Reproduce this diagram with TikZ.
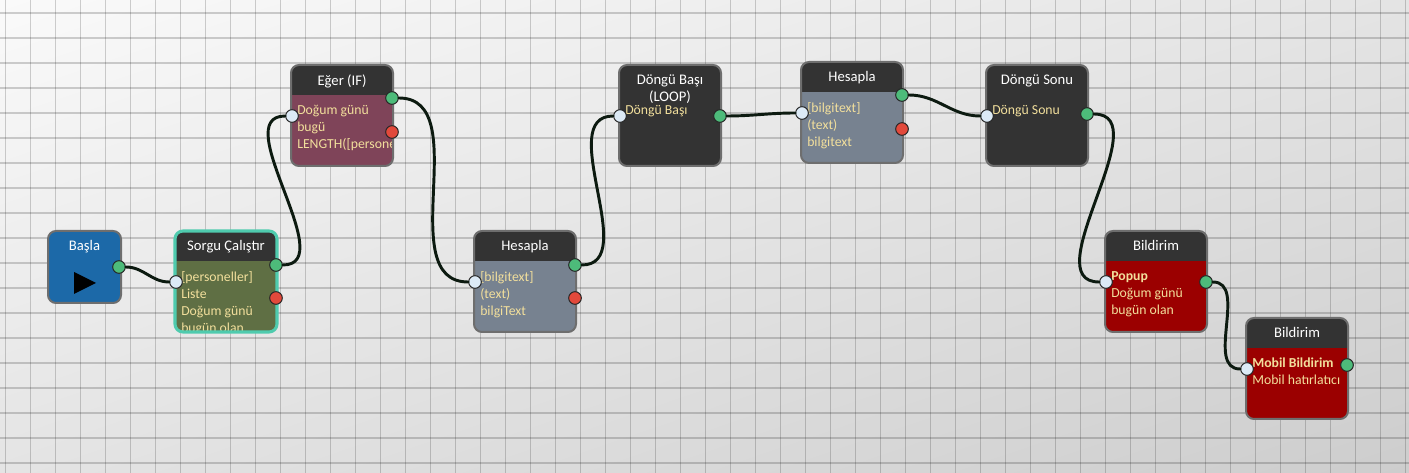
\documentclass[tikz,border=0pt]{standalone}
\usepackage{fontspec}
\setmainfont{Carlito}
\usetikzlibrary{shadings}
\definecolor{bgtl}{HTML}{FAFAFA}
\definecolor{bgmid}{HTML}{E4E4E4}
\definecolor{bgbr}{HTML}{CDCDCD}
\definecolor{blockline}{HTML}{6E6E6E}
\definecolor{selline}{HTML}{4FCBAE}
\definecolor{headcol}{HTML}{333333}
\definecolor{sorgubody}{HTML}{5F6F44}
\definecolor{egerbody}{HTML}{7F4459}
\definecolor{hesbody}{HTML}{778290}
\definecolor{bilbody}{HTML}{9B0000}
\definecolor{baslacol}{HTML}{1C69A8}
\definecolor{portin}{HTML}{DCEAF6}
\definecolor{portout}{HTML}{4DBB7A}
\definecolor{porterr}{HTML}{E2493B}
\definecolor{bodytxt}{HTML}{F2DF9C}
\definecolor{wirecol}{HTML}{0C1A10}
\begin{document}
\begin{tikzpicture}[x=.75pt,y=-.75pt,line cap=round,line join=round,
  font=\fontsize{10.3}{12.75}\selectfont,
  gridline/.style={draw=black,draw opacity=.18,line width=1.4pt,line cap=butt},
  block/.style={draw=blockline,line width=1.5pt,rounded corners=6pt},
  selblock/.style={draw=selline,line width=2.3pt,rounded corners=6pt},
  title/.style={anchor=north,inner sep=0pt,text=white,align=center,
    font=\fontsize{11}{12.75}\selectfont},
  bodytext/.style={anchor=north west,inner sep=0pt,text=bodytxt,align=left},
  port/.style={circle,draw=black!85,line width=.75pt,minimum size=9.5pt,inner sep=0pt},
  wire/.style={draw=wirecol,line width=2.2pt}]
  \useasboundingbox (0,0) rectangle (1409,473);
  % background with grid
  \shade[upper left=bgtl,upper right=bgmid,lower left=bgmid,lower right=bgbr]
    (0,0) rectangle (1409,473);
  \foreach \x in {5.5,30.5,...,1405.5}
    \draw[gridline] (\x,0)--(\x,473);
  \foreach \y in {12.7,37.7,...,462.7}
    \draw[gridline] (0,\y)--(1409,\y);
  % start block
  \draw[block,fill=baslacol] (48,231) rectangle (121,303);
  \node[title] (basla) at (84.5,240) {Başla};
  \fill[black] (74,272)--(96,283)--(74,294)--cycle;
  \node[port,fill=portout] (out-basla) at (119,267) {};
  % name/left/top/title/body/text/out port/red port/border
  \foreach \nm/\bx/\by/\ttl/\fillcol/\txt/\outdy/\err/\brd in {
    sorgu/175/231/{Sorgu Çalıştır}/sorgubody/{[personeller]\\Liste\\Doğum günü\\bugün olan}/34/1/selblock,
    eger/291/65/{Eğer (IF)}/egerbody/{Doğum günü\\bugü\\LENGTH([personeller])}/33/1/block,
    hes1/474/231/{Hesapla}/hesbody/{[bilgitext]\\(text)\\bilgiText}/34/1/block,
    dbas/619/65/{Döngü Başı\\(LOOP)}/headcol/{Döngü Başı}/51/0/block,
    hes2/801/62/{Hesapla}/hesbody/{[bilgitext]\\(text)\\bilgitext}/33/1/block,
    dson/986/65/{Döngü Sonu}/headcol/{Döngü Sonu}/49/0/block,
    bil1/1105/231/{Bildirim}/bilbody/{\textbf{Popup}\\Doğum günü\\bugün olan}/51/0/block,
    bil2/1246/318/{Bildirim}/bilbody/{\textbf{Mobil Bildirim}\\Mobil hatırlatıcı}/47/0/block}{
    \begin{scope}
      \clip[rounded corners=6pt] (\bx,\by) rectangle +(102,101);
      \fill[\fillcol] (\bx,\by) rectangle +(102,101);
      \fill[headcol] (\bx,\by) rectangle +(102,30);
      \node[bodytext] (txt-\nm) at (\bx+6,\by+40) {\txt};
    \end{scope}
    \draw[\brd] (\bx,\by) rectangle +(102,101);
    \node[title] (ttl-\nm) at (\bx+51,\by+9.5) {\ttl};
    \node[port,fill=portin] (in-\nm) at (\bx+1,\by+51) {};
    \node[port,fill=portout] (out-\nm) at (\bx+101,\by+\outdy) {};
    \ifnum\err=1
      \node[port,fill=porterr] (err-\nm) at (\bx+101,\by+67) {};
    \fi
  }
  % connections
  \foreach \a/\b in {basla/sorgu,sorgu/eger,eger/hes1,hes1/dbas,
    dbas/hes2,hes2/dson,dson/bil1,bil1/bil2}
    \draw[wire] (out-\a) to[out=0,in=180] (in-\b);
\end{tikzpicture}
\end{document}
